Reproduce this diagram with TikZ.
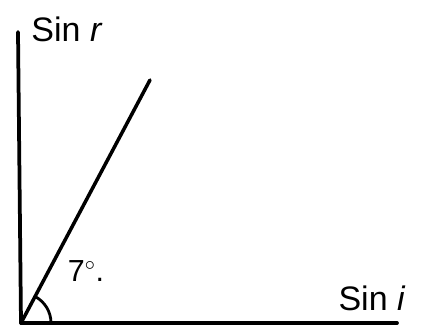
\documentclass[tikz,border=0pt]{standalone}
\usepackage{fontspec}
\setsansfont{Liberation Sans}
\usepackage{tikz}
\usetikzlibrary{positioning}

\begin{document}
\begin{tikzpicture}[
  x=0.03cm, y=0.03cm,
  axis/.style={line width=3.2pt, line cap=round},
  ray/.style={line width=3pt, line cap=round},
  lbl/.style={font=\sffamily\fontsize{29}{30}\selectfont, inner sep=0pt},
  anglbl/.style={font=\sffamily\fontsize{26}{28}\selectfont, inner sep=0pt}
]
\useasboundingbox (0,0) rectangle (436,325);
\coordinate (O) at (21,2);
\coordinate (ytop) at (18,293);
\coordinate (xend) at (397,2);
\coordinate (rayend) at (150,245);

\draw[axis] (O) -- (ytop);
\draw[axis] (O) -- (xend);
\draw[ray] (O) -- (rayend);
\draw[line width=2.4pt] ([shift={(0:30)}]O) arc (0:62:30);

\node[lbl] (sinr) at (67,296) {Sin \textit{r}};
\node[lbl] (sini) at (372,27) {Sin \textit{i}};
\node[anglbl] (ang) at (86,54) {7$^{\circ}$.};
\end{tikzpicture}
\end{document}
